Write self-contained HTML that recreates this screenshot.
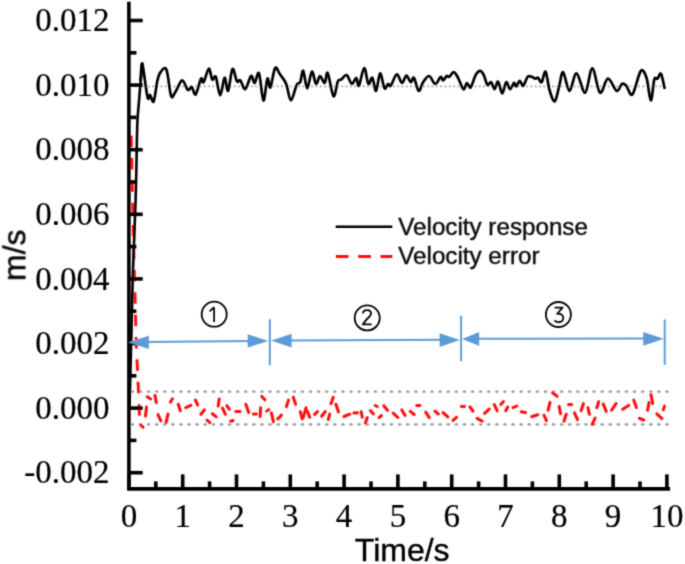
<!DOCTYPE html><html><head><meta charset="utf-8"><style>html,body{margin:0;padding:0;background:#fff;}svg{display:block;}.serif{font-family:"Liberation Serif",serif;}.sans{font-family:"Liberation Sans",sans-serif;}</style></head><body>
<svg width="685" height="564" viewBox="0 0 685 564">
<defs><filter id="bl" x="0" y="0" width="685" height="564" filterUnits="userSpaceOnUse"><feConvolveMatrix order="3" kernelMatrix="0.02768 0.11101 0.02768 0.11101 0.44521 0.11101 0.02768 0.11101 0.02768" edgeMode="duplicate"/></filter></defs>
<rect width="685" height="564" fill="#fff"/>
<g filter="url(#bl)">
<g stroke="#939393" stroke-width="2.4" stroke-linecap="round" stroke-dasharray="1.1 7" fill="none">
<line x1="131.8" y1="391.6" x2="668.5" y2="391.6"/>
<line x1="131.8" y1="424.4" x2="668.5" y2="424.4"/>
</g>
<line x1="130.5" y1="86.4" x2="668" y2="86.4" stroke="#a8a8a8" stroke-width="1.6" stroke-dasharray="2 2.3"/>
<path d="M131.2 135.5 L133.5 240 L136.3 345 L138.2 385 L139.5 416" stroke="#ff1010" stroke-width="2.9" fill="none" stroke-dasharray="11.5 10.9"/>
<g stroke="#ff1010" stroke-width="3" stroke-linecap="round" fill="none">
<line x1="140.8" y1="425" x2="143.1" y2="427.3"/>
<line x1="145.5" y1="416" x2="146.5" y2="407.1"/>
<line x1="147.3" y1="396.8" x2="150.6" y2="398.9"/>
<line x1="155" y1="395.4" x2="156.3" y2="402.6"/>
<line x1="158" y1="414.6" x2="160.9" y2="420.8"/>
<line x1="166.1" y1="422.4" x2="168" y2="414.1"/>
<line x1="170.4" y1="402.1" x2="172.5" y2="398.8"/>
<line x1="178.3" y1="404.2" x2="180.3" y2="410.7"/>
<line x1="185.8" y1="407.7" x2="190.9" y2="405.4"/>
<line x1="195.4" y1="400" x2="197.7" y2="405"/>
<line x1="200.8" y1="414.4" x2="204.5" y2="409.8"/>
<line x1="207" y1="420.2" x2="209.9" y2="422.7"/>
<line x1="212.3" y1="413.8" x2="216.3" y2="416.9"/>
<line x1="219.2" y1="398.9" x2="218.2" y2="406.1"/>
<line x1="222.5" y1="408.1" x2="225.4" y2="414.3"/>
<line x1="226.8" y1="405.7" x2="229.3" y2="409.2"/>
<line x1="230.6" y1="421.3" x2="233.1" y2="420.5"/>
<line x1="235.8" y1="411.5" x2="240.1" y2="411.5"/>
<line x1="245.8" y1="404.2" x2="248.7" y2="412.5"/>
<line x1="253.4" y1="413.9" x2="256.4" y2="413.9"/>
<line x1="260.7" y1="407.7" x2="260.1" y2="416.6"/>
<line x1="261.8" y1="396.4" x2="264.9" y2="399.8"/>
<line x1="266.7" y1="411.1" x2="268.8" y2="409.6"/>
<line x1="271.4" y1="412.9" x2="273.4" y2="421.8"/>
<line x1="277.8" y1="418.9" x2="281.4" y2="415.1"/>
<line x1="286.4" y1="406.6" x2="288.5" y2="400.1"/>
<line x1="293.3" y1="397.2" x2="295.6" y2="404.3"/>
<line x1="300.3" y1="411.7" x2="302.2" y2="418.9"/>
<line x1="303.2" y1="417.7" x2="306.1" y2="407.7"/>
<line x1="307.4" y1="411.1" x2="309.7" y2="417.3"/>
<line x1="314.7" y1="414.4" x2="317.6" y2="411.5"/>
<line x1="321.6" y1="416.2" x2="325.3" y2="411.5"/>
<line x1="328.3" y1="419.5" x2="329.7" y2="414.1"/>
<line x1="331" y1="403.7" x2="333.2" y2="397.2"/>
<line x1="335.9" y1="404.2" x2="338.5" y2="411.9"/>
<line x1="344" y1="416.5" x2="349.8" y2="414.2"/>
<line x1="353.8" y1="413" x2="357.4" y2="412.7"/>
<line x1="361.2" y1="411.7" x2="362.2" y2="417.2"/>
<line x1="365.4" y1="423" x2="367.3" y2="417.6"/>
<line x1="370.4" y1="410.7" x2="373.4" y2="413.9"/>
<line x1="375.2" y1="405.5" x2="377.3" y2="406.5"/>
<line x1="379.2" y1="417.5" x2="381.5" y2="415.5"/>
<line x1="383.8" y1="405.7" x2="387.5" y2="410.3"/>
<line x1="393.2" y1="413.2" x2="397.9" y2="417.5"/>
<line x1="401.8" y1="409.9" x2="405.1" y2="415.5"/>
<line x1="410.2" y1="411.4" x2="414.2" y2="414.5"/>
<line x1="416.8" y1="405.5" x2="419.9" y2="405.5"/>
<line x1="425.7" y1="412.2" x2="429.3" y2="417.6"/>
<line x1="434.9" y1="411.1" x2="438.4" y2="414"/>
<line x1="443.1" y1="412.6" x2="447.8" y2="416.9"/>
<line x1="453" y1="420.4" x2="456.5" y2="417.3"/>
<line x1="461.4" y1="406.4" x2="464.5" y2="406.5"/>
<line x1="469.9" y1="406.9" x2="473" y2="411.2"/>
<line x1="477.1" y1="418.4" x2="482.1" y2="421.1"/>
<line x1="484.6" y1="413.4" x2="489.2" y2="409.1"/>
<line x1="494.3" y1="404.6" x2="497.2" y2="410.8"/>
<line x1="500.8" y1="404.5" x2="503.5" y2="401.6"/>
<line x1="505.7" y1="410.8" x2="507.8" y2="407"/>
<line x1="513" y1="407.7" x2="516.8" y2="406"/>
<line x1="521.2" y1="411.7" x2="525.5" y2="412.5"/>
<line x1="531.7" y1="416.6" x2="537.7" y2="414.7"/>
<line x1="544.1" y1="415.2" x2="546.4" y2="420.8"/>
<line x1="548.1" y1="410.1" x2="550" y2="402.4"/>
<line x1="552.6" y1="392.8" x2="557.2" y2="396.4"/>
<line x1="559.2" y1="406.5" x2="560.5" y2="413.7"/>
<line x1="563.9" y1="421.2" x2="566.3" y2="414.1"/>
<line x1="568.5" y1="404.5" x2="571.6" y2="404.5"/>
<line x1="574.5" y1="412.8" x2="577.5" y2="419.6"/>
<line x1="581.1" y1="410.7" x2="583.5" y2="403.6"/>
<line x1="588" y1="407.7" x2="589.4" y2="414.2"/>
<line x1="592.2" y1="424.3" x2="595.1" y2="418.1"/>
<line x1="596.8" y1="407.8" x2="598.7" y2="401.8"/>
<line x1="603.3" y1="404.1" x2="606.2" y2="411.4"/>
<line x1="611.6" y1="410.2" x2="616.1" y2="403.5"/>
<line x1="622.6" y1="409.3" x2="628.7" y2="405.4"/>
<line x1="633.7" y1="400.1" x2="636.4" y2="407.5"/>
<line x1="639.4" y1="418.3" x2="643.8" y2="420"/>
<line x1="647.6" y1="410.2" x2="649.1" y2="402.4"/>
<line x1="651" y1="394.6" x2="652.7" y2="403.6"/>
<line x1="656.8" y1="413.8" x2="662" y2="418.6"/>
<line x1="663.3" y1="409.8" x2="664.5" y2="406.1"/>
</g>
<path fill="none" stroke="#000" stroke-width="2.6" stroke-linejoin="round" stroke-linecap="round" d="M129.5 408 C129.8 395 130.9 353 131.5 330 C132.1 307 132.3 291.7 133 270 C133.7 248.3 134.9 222.5 135.6 200 C136.3 177.5 136.7 148.8 137 135 C137.3 121.2 137.3 122.8 137.7 117 C138 111.2 138.6 106.2 139.1 100 C139.6 93.8 140.2 86 140.7 80 C141.2 74 142 66.5 142.3 63.8"/>
<path fill="none" stroke="#000" stroke-width="2.7" stroke-linejoin="round" stroke-linecap="round" d="M140.7 80 C141 77.3 141.2 61 142.3 63.8 C143.4 66.6 146.2 91.8 147.5 97 C148.8 102.2 149.1 94.3 150.1 95 C151.1 95.7 152.5 103.9 153.7 101.4 C154.9 98.9 156.4 84.7 157.5 80 C158.6 75.3 158.8 75 160 73 C161.2 71 163.8 67.9 165 68.1 C166.2 68.3 166.5 69.3 167.5 74 C168.5 78.7 169.9 93.2 171.2 96.2 C172.5 99.2 173.7 94.4 175.5 91.8 C177.3 89.2 180.1 80.7 182.2 80.4 C184.2 80.1 186.2 88.9 187.8 90 C189.4 91.1 190.4 86.3 191.7 87 C193 87.7 194.1 95.8 195.7 94.4 C197.2 93 199.7 80.7 201 78.7 C202.3 76.7 202.3 83.9 203.6 82.2 C204.9 80.5 207.4 69.2 208.8 68.7 C210.2 68.2 211.1 78.1 212.3 79.5 C213.5 80.9 214.5 74.3 215.8 76.9 C217.1 79.5 218.7 95.2 220.2 95.3 C221.7 95.4 223.3 78.5 224.6 77.8 C225.9 77.1 226.8 92.4 228.1 90.9 C229.4 89.4 231 70.6 232.5 69 C234 67.4 235.6 79.4 236.9 81.3 C238.2 83.2 239 79.1 240.4 80.4 C241.8 81.7 243.4 89.9 245.2 89.2 C247 88.5 249.5 77 251.1 76 C252.7 75 253.3 83.4 254.6 83 C255.9 82.6 257.5 70.5 259 73.4 C260.5 76.3 262 99.6 263.4 100.5 C264.8 101.4 266.2 80.9 267.4 78.7 C268.6 76.5 269.1 89.2 270.4 87.4 C271.7 85.6 273.5 70.3 275.1 68.1 C276.7 65.9 278.1 71.7 280 74.3 C281.9 76.9 284.4 79.5 286.2 83.9 C288 88.3 289.1 100.3 290.9 100.5 C292.6 100.7 295.1 87.8 296.7 84.8 C298.2 81.8 299.1 84.5 300.2 82.2 C301.3 79.9 302 69.8 303.2 70.8 C304.4 71.8 305.8 88.2 307.2 88.3 C308.6 88.4 310.4 72.3 311.9 71.6 C313.4 70.9 314.6 83.2 316 83.9 C317.4 84.6 318.6 76.2 320 76 C321.4 75.8 323.4 83.5 324.7 83 C326 82.5 326.2 70.8 327.7 73 C329.2 75.2 331.8 94.8 333.5 96.2 C335.2 97.6 336.6 84.1 337.9 81.3 C339.2 78.5 339.9 80.5 341.4 79.5 C342.8 78.5 344.9 74.4 346.6 75.1 C348.4 75.8 350.3 83.5 351.9 83.9 C353.5 84.4 355 77.5 356.2 77.8 C357.4 78.1 357.6 87.3 358.9 85.7 C360.2 84.1 362.6 68.4 364.2 68.1 C365.8 67.8 367 82.3 368.4 83.9 C369.8 85.5 371 76.6 372.3 77.8 C373.6 79 374.8 91.6 376.1 90.9 C377.4 90.2 378.7 73.8 380.1 73.4 C381.5 73 383.2 86.5 384.5 88.3 C385.8 90 387 84.3 388 83.9 C389 83.5 389.2 87.3 390.7 85.7 C392.2 84.1 394.9 74.8 396.8 74.3 C398.7 73.8 400.4 82.8 402 83 C403.6 83.2 404.9 75.8 406.4 75.7 C407.9 75.6 409.5 81.9 410.8 82.2 C412.1 82.5 412.7 76.3 414 77.8 C415.3 79.2 417.2 90.2 418.7 90.9 C420.2 91.6 421.4 84.7 423.1 82.2 C424.9 79.7 427.2 75.7 429.2 76 C431.2 76.3 433.4 83.8 435.3 83.9 C437.2 84.1 439.3 77.5 440.6 76.9 C441.9 76.3 442.2 80.6 443.2 80.4 C444.2 80.2 445.7 76.6 446.7 76 C447.7 75.4 448.1 77.5 449.3 76.9 C450.5 76.3 452.2 72.1 453.7 72.2 C455.2 72.3 456.5 75 458.1 77.8 C459.7 80.6 461.9 88.3 463.4 89.2 C464.9 90.1 465.7 83.3 466.9 83 C468.1 82.7 469.2 88.7 470.7 87.4 C472.1 86.1 474 77.9 475.6 75.1 C477.2 72.3 478.8 70.8 480.2 70.8 C481.6 70.8 482.6 72.8 483.8 75.1 C485 77.4 486.1 83.6 487.3 84.8 C488.5 86 489.9 81.5 491.1 82.2 C492.3 82.9 493.4 89.3 494.6 89.2 C495.8 89.1 496.8 80.9 498.1 81.6 C499.4 82.3 500.9 93.4 502.2 93.5 C503.5 93.6 504.9 82.9 506.2 82.2 C507.5 81.5 508.7 89.1 510 89.2 C511.3 89.3 512.9 83.5 513.9 83 C514.9 82.5 515.2 86.8 516.2 86.5 C517.2 86.2 518.5 81 519.7 80.9 C520.9 80.8 521.9 86.4 523.2 85.7 C524.5 85 526.2 78.4 527.6 76.9 C529 75.4 530.6 76.6 531.9 76.9 C533.2 77.2 534.4 78.6 535.4 78.7 C536.4 78.8 537.1 77.2 538.1 77.8 C539.1 78.4 540.4 83.2 541.6 82.2 C542.9 81.2 544.3 70.3 545.6 71.6 C546.9 72.9 548 85 549.5 90 C551 95 553.1 102 554.7 101.4 C556.3 100.8 557.7 91.4 559.1 86.5 C560.5 81.6 561.4 71.5 563.1 72.2 C564.8 72.9 567.3 90.7 569.5 90.9 C571.7 91.1 573.9 73.1 576.5 73.4 C579.1 73.7 582.6 93.5 585.2 92.7 C587.8 91.9 589.8 68.4 592.3 68.4 C594.8 68.4 597.4 91 600 92.7 C602.6 94.4 605.1 79 607.9 78.7 C610.7 78.4 614.4 90 616.7 90.9 C619 91.8 620.3 84.8 621.9 83.9 C623.5 83 624.5 84 626.3 85.7 C628 87.5 630 96.9 632.4 94.4 C634.8 92 638.4 73.8 640.8 71 C643.1 68.2 644.8 72.9 646.5 77.8 C648.2 82.7 649.5 100.2 650.8 100.5 C652.1 100.8 653.2 83.1 654.3 79.5 C655.4 75.9 656.4 79.6 657.5 78.7 C658.6 77.8 659.8 72.4 661 73.9 C662.2 75.4 663.9 85.6 664.5 87.9"/>
<g stroke="#000" stroke-width="3.6" fill="none" stroke-linecap="square">
<path d="M128.9 3.5 V488.9 H668.3"/>
<line x1="129" y1="472.7" x2="142.7" y2="472.7" stroke-linecap="butt"/>
<line x1="129" y1="440.4" x2="136.4" y2="440.4" stroke-linecap="butt"/>
<line x1="129" y1="408.1" x2="142.7" y2="408.1" stroke-linecap="butt"/>
<line x1="129" y1="375.8" x2="136.4" y2="375.8" stroke-linecap="butt"/>
<line x1="129" y1="343.5" x2="142.7" y2="343.5" stroke-linecap="butt"/>
<line x1="129" y1="311.2" x2="136.4" y2="311.2" stroke-linecap="butt"/>
<line x1="129" y1="278.9" x2="142.7" y2="278.9" stroke-linecap="butt"/>
<line x1="129" y1="246.6" x2="136.4" y2="246.6" stroke-linecap="butt"/>
<line x1="129" y1="214.3" x2="142.7" y2="214.3" stroke-linecap="butt"/>
<line x1="129" y1="182" x2="136.4" y2="182" stroke-linecap="butt"/>
<line x1="129" y1="149.7" x2="142.7" y2="149.7" stroke-linecap="butt"/>
<line x1="129" y1="117.4" x2="136.4" y2="117.4" stroke-linecap="butt"/>
<line x1="129" y1="85.1" x2="142.7" y2="85.1" stroke-linecap="butt"/>
<line x1="129" y1="52.8" x2="136.4" y2="52.8" stroke-linecap="butt"/>
<line x1="129" y1="20.5" x2="142.7" y2="20.5" stroke-linecap="butt"/>
<line x1="128.9" y1="488.5" x2="128.9" y2="474.4" stroke-linecap="butt"/>
<line x1="155.8" y1="488.5" x2="155.8" y2="481.4" stroke-linecap="butt"/>
<line x1="182.7" y1="488.5" x2="182.7" y2="474.4" stroke-linecap="butt"/>
<line x1="209.6" y1="488.5" x2="209.6" y2="481.4" stroke-linecap="butt"/>
<line x1="236.5" y1="488.5" x2="236.5" y2="474.4" stroke-linecap="butt"/>
<line x1="263.4" y1="488.5" x2="263.4" y2="481.4" stroke-linecap="butt"/>
<line x1="290.3" y1="488.5" x2="290.3" y2="474.4" stroke-linecap="butt"/>
<line x1="317.2" y1="488.5" x2="317.2" y2="481.4" stroke-linecap="butt"/>
<line x1="344.1" y1="488.5" x2="344.1" y2="474.4" stroke-linecap="butt"/>
<line x1="371" y1="488.5" x2="371" y2="481.4" stroke-linecap="butt"/>
<line x1="397.9" y1="488.5" x2="397.9" y2="474.4" stroke-linecap="butt"/>
<line x1="424.8" y1="488.5" x2="424.8" y2="481.4" stroke-linecap="butt"/>
<line x1="451.7" y1="488.5" x2="451.7" y2="474.4" stroke-linecap="butt"/>
<line x1="478.6" y1="488.5" x2="478.6" y2="481.4" stroke-linecap="butt"/>
<line x1="505.5" y1="488.5" x2="505.5" y2="474.4" stroke-linecap="butt"/>
<line x1="532.4" y1="488.5" x2="532.4" y2="481.4" stroke-linecap="butt"/>
<line x1="559.3" y1="488.5" x2="559.3" y2="474.4" stroke-linecap="butt"/>
<line x1="586.2" y1="488.5" x2="586.2" y2="481.4" stroke-linecap="butt"/>
<line x1="613.1" y1="488.5" x2="613.1" y2="474.4" stroke-linecap="butt"/>
<line x1="640" y1="488.5" x2="640" y2="481.4" stroke-linecap="butt"/>
<line x1="666.9" y1="488.5" x2="666.9" y2="474.4" stroke-linecap="butt"/>
</g>
<g class="serif" font-size="33" fill="#000" stroke="#000" stroke-width="0.2" text-anchor="end">
<text x="109.4" y="483.3">-0.002</text>
<text x="109.4" y="418.7">0.000</text>
<text x="109.4" y="354.1">0.002</text>
<text x="109.4" y="289.5">0.004</text>
<text x="109.4" y="224.9">0.006</text>
<text x="109.4" y="160.3">0.008</text>
<text x="109.4" y="95.7">0.010</text>
<text x="109.4" y="31.1">0.012</text>
</g>
<g class="serif" font-size="33" fill="#000" stroke="#000" stroke-width="0.2" text-anchor="middle">
<text x="128.9" y="526.6">0</text>
<text x="182.7" y="526.6">1</text>
<text x="236.5" y="526.6">2</text>
<text x="290.3" y="526.6">3</text>
<text x="344.1" y="526.6">4</text>
<text x="397.9" y="526.6">5</text>
<text x="451.7" y="526.6">6</text>
<text x="505.5" y="526.6">7</text>
<text x="559.3" y="526.6">8</text>
<text x="613.1" y="526.6">9</text>
<text x="666.9" y="526.6">10</text>
</g>
<g class="sans" font-size="32" fill="#000" stroke="#000" stroke-width="0.4">
<text x="402.2" y="561" text-anchor="middle">Time/s</text>
<text transform="translate(25.3 255.3) rotate(-90)" text-anchor="middle">m/s</text>
</g>
<line x1="335.7" y1="226.7" x2="392.3" y2="226.7" stroke="#000" stroke-width="2.6"/>
<line x1="335.9" y1="256.6" x2="392.3" y2="256.6" stroke="#ff1010" stroke-width="3" stroke-dasharray="12.7 9.6"/>
<g class="sans" font-size="24.2" fill="#111" stroke="#111" stroke-width="0.45">
<text x="398.3" y="234.7">Velocity response</text>
<text x="398.3" y="264">Velocity error</text>
</g>
<g stroke="#5b9bd5" stroke-width="2" fill="none">
<line x1="145" y1="342" x2="252" y2="341"/>
<line x1="288" y1="340.5" x2="444" y2="339.8"/>
<line x1="476" y1="338.8" x2="648" y2="338.6"/>
<line x1="269.8" y1="319.2" x2="269.8" y2="365.3"/>
<line x1="461.1" y1="315.7" x2="461.1" y2="361.3"/>
<line x1="664.7" y1="319.4" x2="664.7" y2="364.8"/>
</g>
<g fill="#5b9bd5">
<polygon points="128.3,342.3 148.8,335.7 148.8,348.9"/>
<polygon points="268.4,340.9 247.7,334.2 247.7,347.5"/>
<polygon points="271.2,340.6 291.6,333.8 291.6,347.4"/>
<polygon points="459.9,340.1 439.6,333.2 439.6,347"/>
<polygon points="462.2,338.9 479.1,332 479.1,345.8"/>
<polygon points="663.8,338.8 643.2,331.9 643.2,345.7"/>
</g>
<g fill="none" stroke="#000" stroke-width="1.8">
<circle cx="214.2" cy="314.2" r="12.5"/>
<circle cx="367.2" cy="317.9" r="12.5"/>
<circle cx="558.4" cy="314.5" r="12.5"/>
</g>
<g fill="none" stroke="#000" stroke-width="1.75" stroke-linejoin="round">
<path d="M214.1 307.2 V322 M214.1 307.2 L209.6 311.4"/>
<path d="M363 313.6 C363 311.2 364.6 310 367 310 C369.5 310 371 311.4 371 313.4 C371 315.6 368.8 317.2 366.6 319.4 L362.8 324.4 H371.6"/>
<path d="M554.6 307.6 H562.6 L557.2 313.8 C561 313.4 563.4 315.4 563.3 318 C563.2 320.6 561 322.1 558.4 322.1 C556.8 322.1 555.3 321.4 554.5 320.2"/>
</g>
</g></svg></body></html>
